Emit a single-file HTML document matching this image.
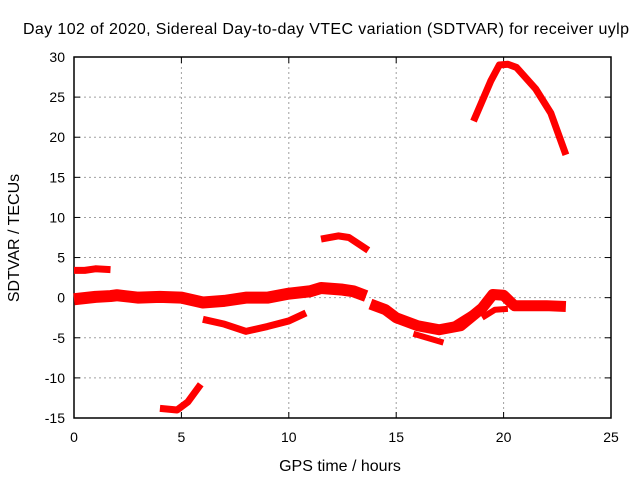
<!DOCTYPE html>
<html><head><meta charset="utf-8"><style>
body{margin:0;background:#fff;font-family:"Liberation Sans",sans-serif}
svg text{font-family:"Liberation Sans",sans-serif;font-size:14px;fill:#000}
svg text.big{font-size:16px}
</style></head><body>
<svg id="chart" width="640" height="480">
<text class="big" x="326" y="34" text-anchor="middle" textLength="606">Day 102 of 2020, Sidereal Day-to-day VTEC variation (SDTVAR) for receiver uylp</text>
<text class="big" x="340" y="471" text-anchor="middle">GPS time / hours</text>
<text class="big" transform="translate(19,238) rotate(-90)" text-anchor="middle">SDTVAR / TECUs</text>
<g id="grid"></g><g id="axes"></g><g id="data"></g>
</svg>
<script>
const xTicks=[0,5,10,15,20,25];
const yTicks=[-15,-10,-5,0,5,10,15,20,25,30];
const segArc0=[[0,3.4],[0.5,3.4],[1,3.6],[1.7,3.5]];
const segMain=[[0,-0.2],[1,0.1],[1.7,0.2],[2,0.3],[3,0],[4,0.1],[5,0],[6,-0.6],[7,-0.4],[8,0],[9,0],[10,0.5],[11,0.8],[11.5,1.2],[12.5,1],[13,0.8],[13.6,0.2]];
const segLow=[[6,-2.7],[7,-3.3],[8,-4.2],[9,-3.6],[10,-2.9],[10.8,-1.9]];
const segBottom=[[4,-13.8],[4.8,-14],[5.3,-13],[5.9,-10.8]];
const segArc12=[[11.5,7.3],[12.3,7.7],[12.8,7.5],[13.7,5.9]];
const segDesc=[[13.8,-0.8],[14.5,-1.5],[15,-2.5],[16,-3.5],[17,-4],[18,-3.5],[19,-1.3],[19.5,0.4],[20,0.3],[20.5,-1],[21,-1],[22,-1],[22.9,-1.1]];
const segBranchA=[[15.8,-4.5],[17.2,-5.6]];
const segBranchB=[[17.3,-4],[18.8,-1.5]];
const segBranchC=[[19,-2.5],[19.6,-1.5],[20.2,-1.4]];
const segTop=[[18.6,22],[19.4,27],[19.8,29],[20.2,29.1],[20.6,28.7],[21.5,26],[22.2,23],[22.9,17.8]];
const X0=74,X1=611,Y0=418,Y1=57;
const sx=h=>X0+(h-0)/25*(X1-X0);
const sy=v=>Y0-(v+15)/45*(Y0-Y1);
const NS="http://www.w3.org/2000/svg";
function mk(tag,attrs,parent){const e=document.createElementNS(NS,tag);for(const k in attrs)e.setAttribute(k,attrs[k]);parent.appendChild(e);return e;}
const grid=document.getElementById('grid'),axes=document.getElementById('axes'),data=document.getElementById('data');
xTicks.forEach(t=>{const x=sx(t);
 if(t>0&&t<25){const l=mk('line',{x1:x,x2:x,y1:Y1,y2:Y0,stroke:'#a0a0a0','stroke-dasharray':'2,3'},grid);
 }
 mk('line',{x1:x,x2:x,y1:Y0,y2:Y0-6,stroke:'#000'},axes);mk('line',{x1:x,x2:x,y1:Y1,y2:Y1+6,stroke:'#000'},axes);
 const tx=mk('text',{x:x,y:Y0+24,'text-anchor':'middle'},axes);tx.textContent=t;
 });
yTicks.forEach(t=>{const y=sy(t);
 if(t>-15&&t<30){const l=mk('line',{x1:X0,x2:X1,y1:y,y2:y,stroke:'#a0a0a0','stroke-dasharray':'2,3'},grid);
 }
 mk('line',{x1:X0,x2:X0+6,y1:y,y2:y,stroke:'#000'},axes);mk('line',{x1:X1,x2:X1-6,y1:y,y2:y,stroke:'#000'},axes);
 const tx=mk('text',{x:X0-9,y:y+5,'text-anchor':'end'},axes);tx.textContent=t;
 });
const fr=mk('rect',{x:X0,y:Y1,width:X1-X0,height:Y0-Y1,fill:'none',stroke:'#000','stroke-width':1.5},axes);

function seg(arr,w,name){const p=mk('polyline',{points:arr.map(d=>sx(d[0])+','+sy(d[1])).join(' '),fill:'none',stroke:'#ff0000','stroke-width':w,'stroke-linejoin':'round'},data);
 }
seg(segArc0,7,'series-arc-start');
seg(segMain,12,'series-main-band');
seg(segLow,7,'series-low-arc');
seg(segBottom,7,'series-bottom-arc');
seg(segArc12,7,'series-arc-noon');
seg(segDesc,11,'series-evening-band');
seg(segBranchA,6,'series-branch-a');
seg(segBranchB,6,'series-branch-b');
seg(segBranchC,6,'series-branch-c');
seg(segTop,7,'series-top-arc');
</script>
</body></html>
